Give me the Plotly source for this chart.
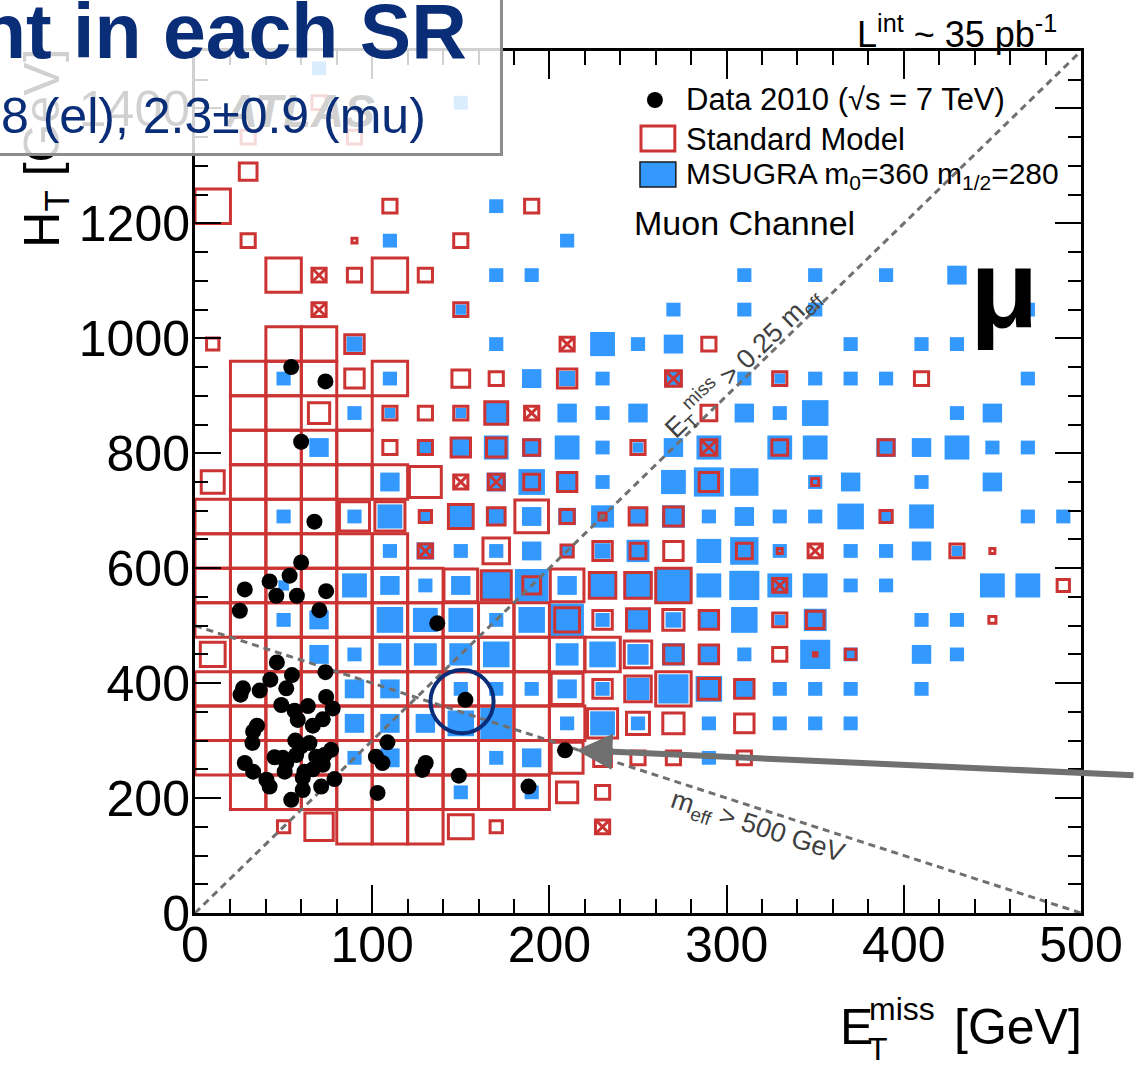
import math
import plotly.graph_objects as go

# ------------------------------------------------------------------ data
met_bin_width = 20.0     # GeV (x bins)
ht_bin_width = 60.0      # GeV (y bins)
box_norm = 100.0         # content giving a full box (ROOT BOX: area ~ content)

# Standard Model expectation, {HT-bin row: {MET-bin column: content}}; negative = negative weight (crossed box)
sm_content = {
    2: {2: 12, 3: 64, 4: 100, 5: 100, 6: 100, 7: 49, 8: 12, 11: -16},
    3: {1: 100, 2: 100, 3: 100, 4: 100, 5: 100, 6: 100, 7: 100, 8: 100, 9: 100, 10: 36, 11: 16},
    4: {0: 100, 1: 100, 2: 100, 3: 100, 4: 100, 5: 100, 6: 100, 7: 100, 8: 100, 9: 100, 10: 81, 11: 25,
        12: 16, 13: 16, 15: 16},
    5: {0: 100, 1: 100, 2: 100, 3: 100, 4: 100, 5: 100, 6: 100, 7: 100, 8: 100, 9: 100, 10: 100, 11: 72,
        12: 42, 13: 36, 15: 30},
    6: {0: 100, 1: 100, 2: 100, 3: 100, 4: 100, 5: 100, 6: 100, 7: 100, 8: 100, 9: 100, 10: 81, 11: 30,
        12: 56, 13: 100, 14: 36, 15: 30},
    7: {0: 49, 1: 100, 2: 100, 3: 100, 4: 100, 5: 100, 6: 100, 7: 100, 8: 100, 9: 100, 10: 100, 11: 100,
        12: 60, 13: 30, 14: 30, 16: 16, 17: 1, 18: 9},
    8: {0: 100, 1: 100, 2: 100, 3: 100, 4: 100, 5: 100, 6: 100, 7: 100, 8: 100, 9: 100, 10: 49, 11: 30,
        12: 42, 13: 36, 14: 30, 16: 16, 17: 25, 22: 4},
    9: {0: 100, 1: 100, 2: 100, 3: 100, 4: 100, 5: 100, 6: 100, 7: 90, 8: 72, 9: 25, 10: 90, 11: 56,
        12: 56, 13: 100, 16: -16, 24: 12},
    10: {0: 100, 1: 100, 2: 100, 3: 100, 4: 100, 5: 100, 6: -16, 8: 56, 10: 12, 11: 30, 12: 20, 13: 30,
         15: 20, 16: 2, 17: -16, 21: 16, 22: 2},
    11: {0: 100, 1: 100, 2: 100, 3: 100, 4: 72, 5: 72, 6: 12, 7: 49, 8: 25, 9: 90, 10: 16, 11: 4,
         12: 25, 13: 30, 19: 12},
    12: {0: 42, 1: 100, 2: 100, 3: 100, 4: 100, 5: 100, 6: 81, 7: -16, 8: -20, 9: 20, 10: 30, 14: 30, 17: 4},
    13: {1: 100, 2: 100, 3: 100, 4: 100, 5: 16, 6: 16, 7: 30, 8: 30, 9: 20, 12: 16, 14: -20, 16: 20, 19: 20},
    14: {1: 100, 2: 100, 3: 36, 4: 100, 5: 16, 6: 16, 7: 16, 8: 42, 9: -16, 14: 20},
    15: {1: 100, 2: 100, 3: 100, 4: 30, 5: 100, 7: 25, 8: 16, 10: 30, 13: -20, 16: 16, 20: 16},
    16: {0: 12, 2: 100, 3: 100, 4: 30, 10: -16, 14: 16},
    17: {3: -16, 7: 16},
    18: {2: 100, 3: -16, 4: 16, 5: 100, 6: 16},
    19: {1: 16, 4: 2, 7: 16},
    20: {0: 100, 5: 16, 9: 16},
    21: {1: 25},
    22: {1: 16, 4: 16},
    23: {3: 16},
}

# MSUGRA m0=360 m1/2=280 signal, same layout
msugra_content = {
    3: {7: 16, 9: 16},
    4: {4: 16, 5: 30, 8: 16, 9: 30, 14: 16},
    5: {4: 30, 5: 30, 6: 30, 7: 56, 8: 81, 10: 16, 11: 49, 12: 16, 14: 16, 16: 16, 17: 16, 18: 16},
    6: {4: 30, 5: 30, 7: 16, 8: 16, 9: 16, 10: 30, 11: 16, 12: 42, 13: 72, 14: 56, 15: 25, 16: 16,
        17: 16, 18: 16, 20: 16},
    7: {3: 30, 4: 16, 5: 42, 6: 42, 7: 42, 8: 56, 10: 42, 11: 56, 12: 36, 13: 42, 14: 30, 15: 16,
        17: 72, 18: 16, 20: 30, 21: 16},
    8: {2: 16, 3: 30, 5: 56, 6: 49, 7: 49, 8: 16, 9: 56, 10: 90, 11: 16, 12: 36, 13: 20, 14: 30,
        15: 56, 16: 9, 17: 42, 20: 16, 21: 16},
    9: {2: 9, 4: 49, 5: 30, 6: 16, 7: 30, 8: 72, 9: 90, 10: 30, 11: 56, 12: 64, 13: 90, 14: 49, 15: 72,
        16: 49, 17: 49, 18: 16, 19: 16, 22: 49, 23: 49},
    10: {5: 16, 6: 25, 7: 16, 8: 16, 9: 30, 10: 12, 11: 20, 12: 42, 14: 49, 15: 64, 16: 16, 18: 16,
         19: 16, 20: 30, 21: 9},
    11: {2: 16, 4: 16, 5: 49, 6: 9, 7: 42, 8: 30, 9: 30, 10: 25, 11: 42, 12: 20, 13: 42, 14: 16, 15: 30,
         16: 16, 17: 16, 18: 56, 19: 9, 20: 49, 23: 16, 24: 16},
    12: {5: 30, 8: 30, 9: 56, 10: 30, 11: 16, 13: 49, 14: 72, 15: 64, 17: 16, 18: 30, 20: 16, 22: 30},
    13: {3: 30, 6: 12, 7: 25, 8: 49, 9: 30, 10: 49, 11: 16, 12: 9, 13: 30, 14: 49, 16: 49, 17: 49,
         19: 30, 20: 30, 21: 49, 22: 16, 23: 16},
    14: {4: 16, 5: 9, 7: 9, 8: 36, 10: 30, 11: 16, 12: 30, 15: 30, 16: 16, 17: 56, 21: 16, 22: 30},
    15: {2: 16, 5: 16, 9: 30, 10: 20, 11: 16, 13: 25, 15: 16, 16: 9, 17: 16, 18: 16, 19: 16, 23: 16},
    16: {4: 20, 8: 16, 11: 49, 12: 16, 13: 30, 18: 16, 20: 16, 21: 16},
    17: {7: 9, 13: 16, 15: 16, 17: 16, 23: 16},
    18: {8: 16, 9: 16, 15: 16, 17: 16, 19: 16, 21: 30},
    19: {5: 16, 10: 16},
    20: {8: 16},
    23: {7: 16},
    24: {3: 16},
}

# Data 2010 events (muon channel)
data_met = [67.4, 59.9, 53.4, 42.1, 28.1, 45.9, 57.5, 74.0, 25.3, 70.2, 136.7, 46.2, 73.6, 54.7, 42.5,
            27.1, 25.7, 36.5, 51.5, 48.7, 63.7, 74.0, 77.7, 56.2, 58.0, 66.5, 72.1, 35.0, 32.8, 32.4,
            28.1, 32.8, 40.3, 42.1, 54.3, 56.6, 64.6, 44.9, 51.5, 50.6, 59.9, 57.1, 68.4, 76.8, 72.1,
            66.5, 78.7, 60.8, 60.8, 71.2, 102.1, 105.8, 108.6, 103.0, 130.2, 128.3, 148.9, 188.2, 208.8,
            152.6, 54.3, 73.6, 59.9, 49.6, 73.0, 61.8]
data_ht = [681, 610, 587, 577, 563, 552, 552, 560, 526, 527, 504, 436, 419, 414, 406,
           391, 380, 387, 391, 362, 360, 376, 356, 352, 336, 326, 337, 326, 316, 296,
           261, 246, 232, 220, 197, 300, 296, 271, 261, 246, 290, 275, 272, 284, 258,
           250, 233, 235, 214, 220, 272, 261, 297, 209, 261, 249, 239, 220, 283,
           371, 950, 925, 820, 270, 275, 246]

meff_cut = 500.0        # GeV
met_fraction_cut = 0.25

x_ticks = [0, 100, 200, 300, 400, 500]
y_ticks = [0, 200, 400, 600, 800, 1000, 1200, 1400]

# ------------------------------------------------------------------ style
FONT = "Liberation Sans, Arial, Helvetica, sans-serif"
RED = "#cc3333"
BLUE = "#3399ff"
GREY = "#707070"
NAVY = "#0a2d78"

L, R, T, B = 195, 50, 51, 153
W, H = 1135, 1066
PW, PH = W - L - R, H - T - B


def px2x(px):
    return (px - L) / PW


def py2y(py):
    return (H - B - py) / PH


shapes = []


def add_boxes(content, kind):
    for row, cols in content.items():
        for col, val in cols.items():
            s = min(1.0, math.sqrt(abs(val) / box_norm))
            xc = (col + 0.5) * met_bin_width
            yc = (row + 0.5) * ht_bin_width
            hx = 0.5 * met_bin_width * s
            hy = 0.5 * ht_bin_width * s
            x0, x1, y0, y1 = xc - hx, xc + hx, yc - hy, yc + hy
            if kind == "fill":
                shapes.append(dict(type="rect", xref="x", yref="y", x0=x0, x1=x1, y0=y0, y1=y1,
                                   fillcolor=BLUE, line=dict(width=0), layer="below"))
            else:
                shapes.append(dict(type="rect", xref="x", yref="y", x0=x0, x1=x1, y0=y0, y1=y1,
                                   fillcolor="rgba(0,0,0,0)", line=dict(color=RED, width=3),
                                   layer="below"))
                if val < 0:
                    shapes.append(dict(type="path", xref="x", yref="y",
                                       path=f"M {x0},{y0} L {x1},{y1} M {x0},{y1} L {x1},{y0}",
                                       line=dict(color=RED, width=3), layer="below"))


add_boxes(msugra_content, "fill")
add_boxes(sm_content, "outline")

fig = go.Figure()

# selection lines
met_line = [0.0, meff_cut]
fig.add_trace(go.Scatter(x=met_line, y=[meff_cut - m for m in met_line], mode="lines",
                         line=dict(color=GREY, width=3, dash="7px,5px"), hoverinfo="skip",
                         showlegend=False))
met_line2 = [0.0, 500.0]
fig.add_trace(go.Scatter(x=met_line2, y=[m * (1.0 / met_fraction_cut - 1.0) for m in met_line2],
                         mode="lines", line=dict(color=GREY, width=3, dash="7px,5px"),
                         hoverinfo="skip", showlegend=False))

# data
fig.add_trace(go.Scatter(x=data_met, y=data_ht, mode="markers",
                         marker=dict(color="black", size=16), showlegend=False))

# highlighted event circle
ev_x, ev_y = 150.7, 368.0
shapes.append(dict(type="circle", xref="x", yref="y", x0=ev_x - 17.8, x1=ev_x + 17.8,
                   y0=ev_y - 55, y1=ev_y + 55, line=dict(color=NAVY, width=4), layer="above"))

# legend symbols
shapes.append(dict(type="circle", xref="paper", yref="paper", x0=px2x(649), x1=px2x(665),
                   y0=py2y(108), y1=py2y(92), fillcolor="black", line=dict(width=0), layer="above"))
shapes.append(dict(type="rect", xref="paper", yref="paper", x0=px2x(643), x1=px2x(677),
                   y0=py2y(151), y1=py2y(126), line=dict(color=RED, width=3),
                   fillcolor="rgba(0,0,0,0)", layer="above"))
shapes.append(dict(type="rect", xref="paper", yref="paper", x0=px2x(642), x1=px2x(678),
                   y0=py2y(187), y1=py2y(162), line=dict(color="#1a1a1a", width=1.5),
                   fillcolor=BLUE, layer="above"))

ann = []


def text(px, py, s, size, xanchor="left", color="black", angle=0, ref="paper"):
    d = dict(text=s, showarrow=False, font=dict(size=size, color=color, family=FONT),
             xanchor=xanchor, yanchor="middle", textangle=angle)
    if ref == "paper":
        d.update(xref="paper", yref="paper", x=px2x(px), y=py2y(py))
    else:
        d.update(xref="x", yref="y", x=px, y=py)
    ann.append(d)


# y axis title (under the overlay)
text(45, 148, "H<sub>T</sub> [GeV]", 50, xanchor="center", angle=-90)
# ATLAS label (under the overlay)
text(300, 111, "<b><i>ATLAS</i></b>", 46, xanchor="center")

# x axis title
text(841, 1027, "E", 50)
text(870, 1009, "miss", 32)
text(869, 1049, "T", 32)
text(1088, 1027, "[GeV]", 50, xanchor="right")

# luminosity
text(1063, 32, "L<sup>int</sup> ~ 35 pb<sup>-1</sup>", 36, xanchor="right")

# legend text
text(686, 99, "Data 2010 (√s = 7 TeV)", 31)
text(686, 139, "Standard Model", 31)
text(686, 176, "MSUGRA m<sub>0</sub>=360 m<sub>1/2</sub>=280", 30)
text(634, 223, "Muon Channel", 34)
text(1008, 288, "<b>μ</b>", 112, xanchor="center")

# cut labels along the lines
text(309, 958, "E<sub>T</sub><sup>miss</sup> > 0.25 m<sub>eff</sub>", 27, xanchor="center",
     color="#404040", angle=-44, ref="data")
text(317.4, 148, "m<sub>eff</sub> > 500 GeV", 27, xanchor="center", color="#404040",
     angle=17.9, ref="data")

# arrow pointing at event
ann.append(dict(x=215.2, y=283.3, xref="x", yref="y", ax=570, ay=25, text="", showarrow=True,
                arrowhead=2, arrowsize=1.2, arrowwidth=6, arrowcolor=GREY, standoff=0))

# semi-transparent overlay box (top-left)
ann.append(dict(text=" ", showarrow=False, xref="paper", yref="paper", x=px2x(504), y=py2y(156),
                xanchor="right", yanchor="bottom", width=527, height=179, borderpad=0,
                bgcolor="rgba(255,255,255,0.82)", bordercolor="#8c8c8c", borderwidth=3))
text(470, 31, "<b>nt in each SR</b>", 77, xanchor="right", color=NAVY)
text(-2, 116, "8 (el), 2.3±0.9 (mu)", 50, color=NAVY)

axis_common = dict(showgrid=False, zeroline=False, showline=True, linecolor="black", linewidth=3,
                   mirror="ticks", ticks="inside", tickcolor="black", tickwidth=2,
                   tickfont=dict(size=50, family=FONT, color="black"))

fig.update_layout(
    width=W, height=H, margin=dict(l=L, r=R, t=T, b=B),
    paper_bgcolor="white", plot_bgcolor="white",
    font=dict(family=FONT, color="black"),
    shapes=shapes, annotations=ann, showlegend=False,
    xaxis=dict(range=[0, 500], tickvals=x_ticks, ticklen=28, ticklabelstandoff=-14,
               minor=dict(dtick=20, ticks="inside", ticklen=14, tickcolor="black", tickwidth=2),
               **axis_common),
    yaxis=dict(range=[0, 1500], tickvals=y_ticks, ticklen=26, ticklabelstandoff=-8,
               minor=dict(dtick=50, ticks="inside", ticklen=13, tickcolor="black", tickwidth=2),
               **axis_common),
)

fig.write_html("out.html")
